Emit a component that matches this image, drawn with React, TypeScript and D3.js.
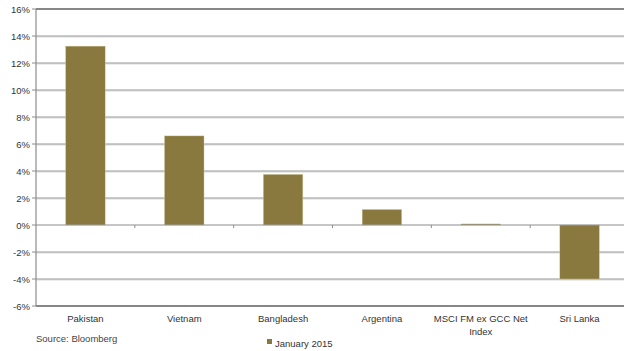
import React from "react";
import * as d3 from "d3";

const categories = ["Pakistan", "Vietnam", "Bangladesh", "Argentina", "MSCI FM ex GCC Net Index", "Sri Lanka"];
const values = [13.25, 6.6, 3.75, 1.15, 0.08, -4.0];
const yTicks = [-6, -4, -2, 0, 2, 4, 6, 8, 10, 12, 14, 16];
const seriesName = "January 2015";
const sourceText = "Source: Bloomberg";

const W = 624;
const H = 351;
const left = 36;
const right = 629;
const top = 9;
const bottom = 306;
const barColor = "#8A793E";
const font = "'Liberation Sans', Arial, sans-serif";

function wrapLabel(s: string): string[] {
  if (s.length <= 22) return [s];
  const words = s.split(" ");
  const lines: string[] = [];
  let cur = "";
  for (const w of words) {
    const t = cur ? cur + " " + w : w;
    if (t.length > 22 && cur) {
      lines.push(cur);
      cur = w;
    } else cur = t;
  }
  if (cur) lines.push(cur);
  return lines;
}

export default function App() {
  const x = d3.scaleBand<string>().domain(categories).range([left, right]).paddingInner(0.6).paddingOuter(0.3);
  const step = x.step();
  const y = d3.scaleLinear().domain([-6, 16]).range([bottom, top]);
  const fmt = (v: number) => `${v}%`;

  return (
    <svg width={W} height={H} style={{ position: "absolute", left: 0, top: 0, background: "#fff" }} fontFamily={font}>
      {/* horizontal gridlines */}
      {yTicks
        .filter((t) => t !== 16 && t !== -6 && t !== 0)
        .map((t) => (
          <g key={t}>
            <line x1={left} x2={W} y1={y(t) + 1} y2={y(t) + 1} stroke="#d9d9d9" strokeWidth={1} />
            <line x1={left} x2={W} y1={y(t)} y2={y(t)} stroke="#969696" strokeWidth={1} />
          </g>
        ))}
      {/* bars */}
      {categories.map((c, i) => {
        const v = values[i];
        const y0 = y(Math.max(0, v));
        const h = Math.abs(y(v) - y(0));
        return (
          <rect key={c} x={x(c)} y={y0} width={x.bandwidth()} height={Math.max(h, 1)} fill={barColor} stroke="#d8cfa8" strokeWidth={0.4} />
        );
      })}
      {/* zero line with category ticks */}
      <line x1={left} x2={W} y1={y(0)} y2={y(0)} stroke="#8c8c8c" strokeWidth={1} />
      {categories.map((c, i) => (
        <line key={"t" + c} x1={left + step * (i + 1)} x2={left + step * (i + 1)} y1={y(0)} y2={y(0) + 3} stroke="#8c8c8c" strokeWidth={1} />
      ))}
      {/* frame top and bottom */}
      <line x1={left} x2={W} y1={y(16)} y2={y(16)} stroke="#111" strokeWidth={1.2} />
      <line x1={left} x2={W} y1={y(-6)} y2={y(-6)} stroke="#111" strokeWidth={1.2} />
      {/* left axis */}
      <line x1={left} x2={left} y1={top} y2={bottom} stroke="#8c8c8c" strokeWidth={1.2} />
      {yTicks.map((t) => (
        <g key={"y" + t}>
          <line x1={left - 4} x2={left} y1={y(t)} y2={y(t)} stroke="#8c8c8c" strokeWidth={1} />
          <text x={left - 6} y={y(t) + 3.5} textAnchor="end" fontSize={9.5} fill="#333">
            {fmt(t)}
          </text>
        </g>
      ))}
      {/* category labels */}
      {categories.map((c) => {
        const lines = wrapLabel(c);
        const cx = (x(c) ?? 0) + x.bandwidth() / 2;
        return (
          <text key={"c" + c} x={cx} y={322} textAnchor="middle" fontSize={9.5} fill="#333">
            {lines.map((l, j) => (
              <tspan key={j} x={cx} dy={j === 0 ? 0 : 12.5}>
                {l}
              </tspan>
            ))}
          </text>
        );
      })}
      {/* source note */}
      <text x={36} y={342} fontSize={9.5} fill="#444">
        {sourceText}
      </text>
      {/* legend */}
      <rect x={267} y={339} width={5} height={5} fill={barColor} />
      <text x={275} y={347} fontSize={9.5} fill="#333">
        {seriesName}
      </text>
    </svg>
  );
}
